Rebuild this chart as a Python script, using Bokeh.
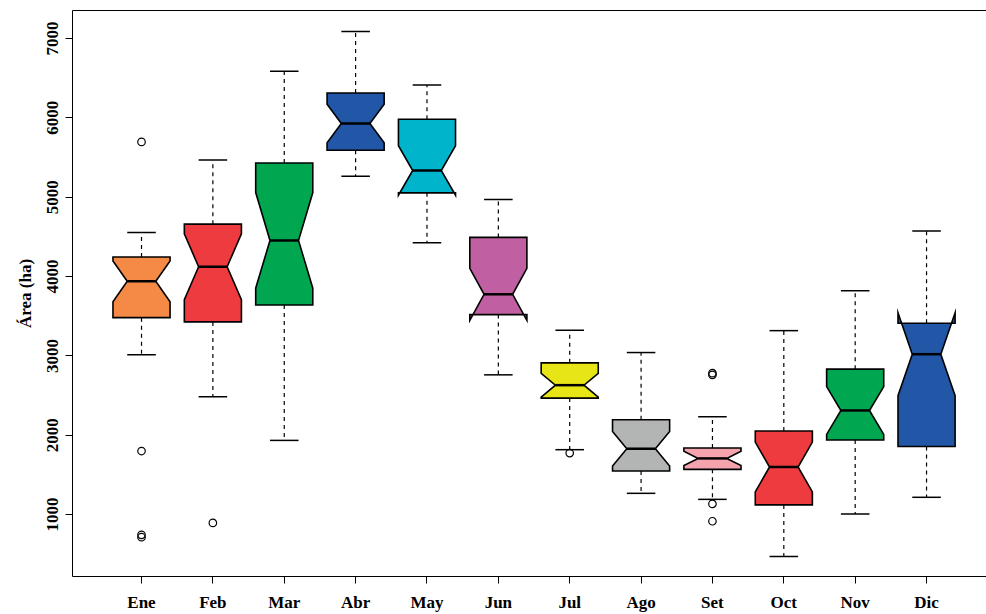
import numpy as np
from bokeh.plotting import figure
from bokeh.models import Range1d, FixedTicker, LinearAxis
from bokeh.embed import file_html
from bokeh.resources import INLINE

# ---- data ----
months = ["Ene", "Feb", "Mar", "Abr", "May", "Jun", "Jul", "Ago", "Set", "Oct", "Nov", "Dic"]
lower_whisker = [3013, 2484, 1935, 5264, 4425, 2761, 1818, 1268, 1192, 472, 1009, 1218]
q1 = [3482, 3428, 3642, 5591, 5054, 3520, 2468, 1550, 1570, 1122, 1940, 1859]
median = [3940, 4123, 4455, 5927, 5336, 3776, 2631, 1830, 1708, 1600, 2312, 3021]
q3 = [4245, 4660, 5431, 6312, 5981, 4493, 2912, 2195, 1839, 2053, 2833, 3411]
upper_whisker = [4556, 5469, 6585, 7088, 6413, 4971, 3323, 3042, 2233, 3318, 3821, 4572]
outlier_month = ["Ene", "Ene", "Ene", "Ene", "Feb", "Jul", "Set", "Set", "Set", "Set"]
outlier_value = [5696, 1801, 745, 715, 895, 1775, 2782, 2761, 1135, 916]
colors = ["#F58A47", "#EE3B3F", "#00A650", "#2157A6", "#00B4CC", "#C060A2",
          "#E8E516", "#B3B5B5", "#F5A3AC", "#EE3B3F", "#00A650", "#2157A6"]
n_years = 22
yticks = [1000, 2000, 3000, 4000, 5000, 6000, 7000]

FONT = "Liberation Serif"

# ---- derived geometry (boxplot conventions) ----
xpos = np.arange(1, len(months) + 1)
half = 0.4          # half box width
nf = 0.5            # notch fraction
staple = 0.2        # staple half width
lw_a, q1_a, med_a, q3_a, uw_a = map(np.array, (lower_whisker, q1, median, q3, upper_whisker))
conf = 1.58 * (q3_a - q1_a) / np.sqrt(n_years)
clo, chi = med_a - conf, med_a + conf

xs, ys = [], []
for i, x in enumerate(xpos):
    xs.append(list(x + half * np.array([-1, 1, 1, nf, 1, 1, -1, -1, -nf, -1])))
    ys.append([q1_a[i], q1_a[i], clo[i], med_a[i], chi[i], q3_a[i], q3_a[i], chi[i], med_a[i], clo[i]])

p = figure(width=986, height=614,
           x_range=Range1d(0.033, 12.84), y_range=Range1d(220, 7352),
           output_backend="svg", toolbar_location=None,
           min_border_left=72, min_border_right=0, min_border_top=10, min_border_bottom=37)
p.outline_line_color = None
p.background_fill_color = "white"
p.border_fill_color = "white"
p.xgrid.visible = False
p.ygrid.visible = False

# whiskers
p.segment(x0=xpos, y0=q3_a, x1=xpos, y1=uw_a, line_color="black", line_width=1.2, line_dash="4 4")
p.segment(x0=xpos, y0=q1_a, x1=xpos, y1=lw_a, line_color="black", line_width=1.2, line_dash="4 4")
# staples
p.segment(x0=xpos - staple, y0=uw_a, x1=xpos + staple, y1=uw_a, line_color="black", line_width=1.5)
p.segment(x0=xpos - staple, y0=lw_a, x1=xpos + staple, y1=lw_a, line_color="black", line_width=1.5)
# notched boxes
p.patches(xs=xs, ys=ys, fill_color=colors, line_color="black", line_width=1.6, line_join="miter")
# medians
p.segment(x0=xpos - half * nf, y0=med_a, x1=xpos + half * nf, y1=med_a, line_color="black", line_width=2.5)
# outliers
ox = [months.index(m) + 1 for m in outlier_month]
p.scatter(x=ox, y=outlier_value, marker="circle", size=7.5, fill_color=None,
          line_color="black", line_width=1.2)

# axes
xa = p.xaxis[0]
xa.ticker = FixedTicker(ticks=list(xpos))
xa.major_label_overrides = {int(i): m for i, m in zip(xpos, months)}
ya = p.yaxis[0]
ya.ticker = FixedTicker(ticks=yticks)
ya.major_label_orientation = "vertical"
ya.axis_label = "Área (ha)"
for ax in (xa, ya):
    ax.axis_line_color = "black"
    ax.axis_line_width = 1
    ax.major_tick_line_color = "black"
    ax.major_tick_line_width = 1
    ax.major_tick_out = 7
    ax.major_tick_in = 0
    ax.minor_tick_line_color = None
    ax.major_label_text_font = FONT
    ax.major_label_text_font_style = "bold"
    ax.major_label_text_font_size = "17px"
    ax.major_label_text_color = "black"
    ax.axis_label_text_font = FONT
    ax.axis_label_text_font_style = "bold"
    ax.axis_label_text_font_size = "17px"
    ax.axis_label_text_color = "black"
xa.major_label_standoff = 9
ya.major_label_standoff = 7
ya.axis_label_standoff = 10

top = LinearAxis(ticker=FixedTicker(ticks=[]), major_tick_out=0, major_tick_in=0,
                 minor_tick_out=0, minor_tick_in=0, major_label_standoff=0,
                 major_label_text_font_size="0px", axis_line_color="black", axis_line_width=1)
p.add_layout(top, "above")

open("out.html", "w").write(file_html(p, INLINE))
